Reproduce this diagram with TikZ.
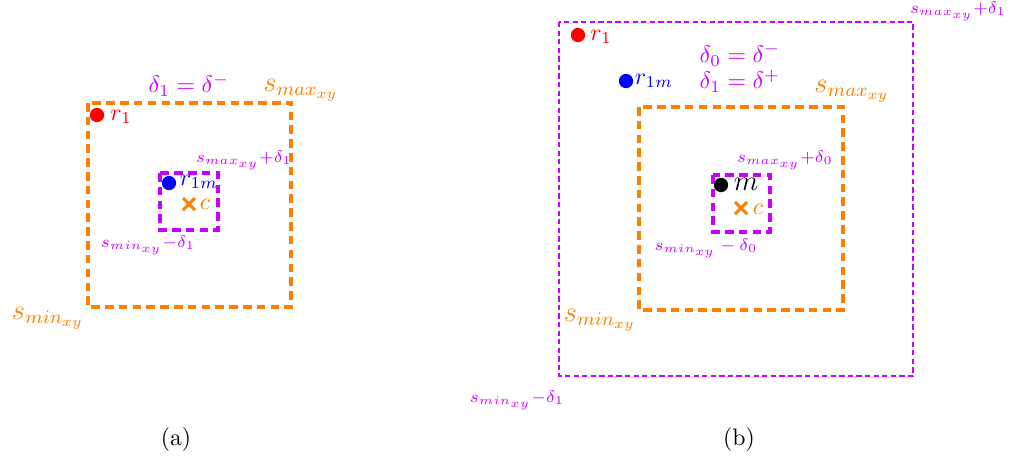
\documentclass[tikz,border=0pt]{standalone}
\usetikzlibrary{calc}
\definecolor{vio}{RGB}{200,0,255}
\definecolor{org}{RGB}{255,128,0}
\begin{document}
\begin{tikzpicture}[x=0.42pt,y=-0.42pt,
  obox/.style={draw=org,line width=1.5pt,dash pattern=on 3.6pt off 2.2pt},
  pbox/.style={draw=vio,line width=1.5pt,dash pattern=on 3.6pt off 2.2pt},
  pthin/.style={draw=vio,line width=1pt,dash pattern=on 2.2pt off 1.4pt},
  dot/.style={circle,inner sep=0pt,minimum size=6pt},
  lbl/.style={inner sep=0pt},
  big/.style={inner sep=0pt,font=\large,text=org},
  small/.style={inner sep=0pt,font=\scriptsize,text=vio},
  cross/.style={draw=org,line width=1.3pt}]
\useasboundingbox (0,0) rectangle (1014,461);
% ---------- panel (a) ----------
\draw[obox] (88,103) rectangle (291,307);
\draw[pbox] (160,173) rectangle (218,230);
\node[dot,fill=red] (ra) at (97,115) {};
\node[lbl,text=red] (rla) at (121,117) {$r_1$};
\node[dot,fill=blue] (ma) at (169,183) {};
\node[lbl,text=blue] (mla) at (199,182) {$r_{1m}$};
\coordinate (ca) at (189,204);
\draw[cross] ($(ca)+(-6,-6)$) -- ($(ca)+(6,6)$) ($(ca)+(-6,6)$) -- ($(ca)+(6,-6)$);
\node[lbl,text=org] (cla) at (205,204) {$c$};
\node[lbl,text=vio] (da) at (189,85) {$\delta_1=\delta^-$};
\node[big] (smaxa) at (301,90) {$s_{max_{xy}}$};
\node[small] (spa) at (244,160) {$s_{max_{xy}}{+}\delta_1$};
\node[small] (sma) at (148,245) {$s_{min_{xy}}{-}\delta_1$};
\node[big] (smina) at (48,318) {$s_{min_{xy}}$};
\node[lbl] (capa) at (176,440) {(a)};
% ---------- panel (b) ----------
\draw[pthin] (559,22) rectangle (913,376);
\draw[obox] (639,107) rectangle (843,310);
\draw[pbox] (713,175) rectangle (770,232);
\node[dot,fill=red] (rb) at (578,35) {};
\node[lbl,text=red] (rlb) at (601,37) {$r_1$};
\node[dot,fill=blue] (mb) at (626,81) {};
\node[lbl,text=blue] (mlb) at (654,81) {$r_{1m}$};
\node[dot,fill=black] (kb) at (721,185) {};
\node[lbl,font=\large] (klb) at (746,184) {$m$};
\coordinate (cb) at (741,208);
\draw[cross] ($(cb)+(-6,-6)$) -- ($(cb)+(6,6)$) ($(cb)+(-6,6)$) -- ($(cb)+(6,-6)$);
\node[lbl,text=org] (clb) at (758,209) {$c$};
\node[lbl,text=vio,align=left] (db) at (740,68) {$\delta_0=\delta^-$\\[-1pt]$\delta_1=\delta^+$};
\node[big] (smaxb) at (852,91) {$s_{max_{xy}}$};
\node[small] (spb1) at (958,11) {$s_{max_{xy}}{+}\delta_1$};
\node[small] (spb0) at (785,160) {$s_{max_{xy}}{+}\delta_0$};
\node[small] (smb0) at (706,248) {$s_{min_{xy}}-\delta_0$};
\node[big] (sminb) at (600,320) {$s_{min_{xy}}$};
\node[small] (smb1) at (517,400) {$s_{min_{xy}}{-}\delta_1$};
\node[lbl] (capb) at (739,440) {(b)};
\end{tikzpicture}
\end{document}
